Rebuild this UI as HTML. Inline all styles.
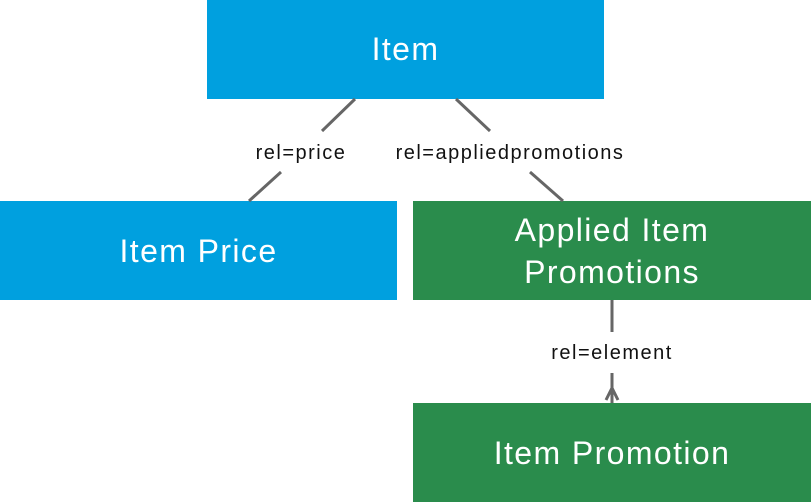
<!DOCTYPE html>
<html><head><style>
body{margin:0;width:811px;height:502px;background:#fff;position:relative;overflow:hidden;font-family:"Liberation Sans",sans-serif}
.b{position:absolute;color:#fff;display:flex;align-items:center;justify-content:center;text-align:center;font-size:32px;letter-spacing:1.4px;line-height:42px}
.blue{background:#00a0df}.green{background:#2a8c4c}
.l{position:absolute;font-size:20px;letter-spacing:1.5px;color:#111;white-space:nowrap;width:300px;text-align:center}
</style></head><body>
<div class="b blue" style="left:207px;top:0;width:397px;height:99px;padding-bottom:2px;box-sizing:border-box">Item</div>
<div class="b blue" style="left:0;top:201px;width:397px;height:99px">Item Price</div>
<div class="b green" style="left:413px;top:201px;width:398px;height:99px">Applied Item<br>Promotions</div>
<div class="b green" style="left:413px;top:403px;width:398px;height:99px">Item Promotion</div>
<svg width="811" height="502" style="position:absolute;left:0;top:0">
<g stroke="#666" stroke-width="3" fill="none">
<line x1="355" y1="99" x2="322" y2="131"/><line x1="281" y1="172" x2="249" y2="201"/>
<line x1="456" y1="99" x2="490" y2="131"/><line x1="530" y1="172" x2="563" y2="201"/>
<line x1="612" y1="300" x2="612" y2="332"/><line x1="612" y1="373" x2="612" y2="403"/>
<polyline points="606,400 612,388 618,400"/>
</g></svg>
<div class="l" style="left:151px;top:142px">rel=price</div>
<div class="l" style="left:360px;top:142px">rel=appliedpromotions</div>
<div class="l" style="left:462px;top:342px">rel=element</div>
</body></html>
